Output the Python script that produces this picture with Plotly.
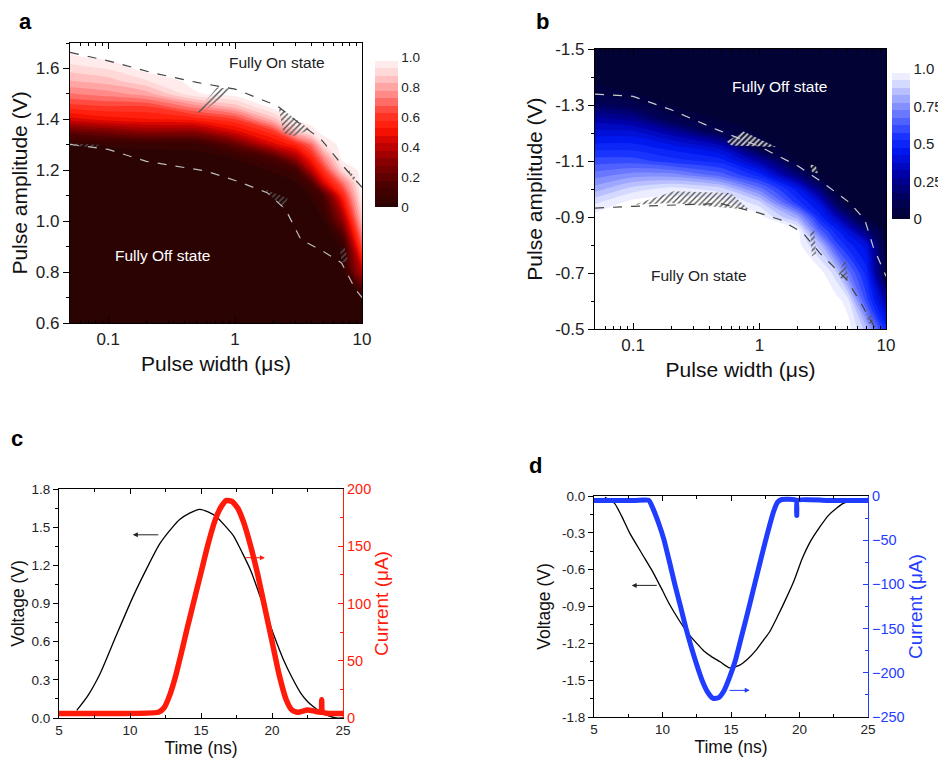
import numpy as np
import plotly.graph_objects as go

# The page body has an 8 px margin, so the figure is drawn 8 px in from the
# window corner: work in window pixels and convert.
OFF = 8
W, H = 946 - OFF, 764 - OFF
FONT = "Liberation Sans"


def px(x):
    return (x - OFF) / W


def py(y):
    return 1 - (y - OFF) / H


# ---------------- Panel a : SET map (normalised state) ----------------
a_width = [0.05, 0.1, 0.2, 0.5, 1, 2, 3, 4, 5, 7, 10]
a_amp = [0.6, 0.7, 0.8, 0.9, 1.0, 1.1, 1.15, 1.2, 1.25, 1.3, 1.35, 1.4,
         1.45, 1.5, 1.55, 1.6, 1.65, 1.7]
a_state = [
    [0, 0, 0, 0, 0, 0, 0, 0, 0, 0, 0],
    [0, 0, 0, 0, 0, 0, 0, 0, 0, 0, 0.02],
    [0, 0, 0, 0, 0, 0, 0, 0, 0, 0, 0.4],
    [0, 0, 0, 0, 0, 0, 0, 0, 0, 0.03, 0.65],
    [0, 0, 0, 0, 0, 0, 0, 0, 0.02, 0.3, 0.85],
    [0, 0, 0, 0, 0, 0, 0, 0.03, 0.15, 0.55, 0.97],
    [0, 0, 0, 0, 0, 0, 0.02, 0.15, 0.45, 0.7, 1],
    [0, 0, 0, 0, 0, 0.03, 0.1, 0.4, 0.6, 0.9, 1],
    [0, 0, 0, 0, 0.03, 0.15, 0.35, 0.55, 0.75, 1, 1],
    [0.02, 0.03, 0.04, 0.05, 0.2, 0.45, 0.55, 0.7, 0.92, 1, 1],
    [0.2, 0.25, 0.3, 0.3, 0.45, 0.6, 0.85, 0.95, 1, 1, 1],
    [0.45, 0.5, 0.52, 0.55, 0.62, 0.85, 1, 1, 1, 1, 1],
    [0.6, 0.62, 0.62, 0.75, 0.85, 1, 1, 1, 1, 1, 1],
    [0.72, 0.75, 0.8, 0.97, 1, 1, 1, 1, 1, 1, 1],
    [0.82, 0.85, 0.92, 1, 1, 1, 1, 1, 1, 1, 1],
    [0.9, 0.93, 1, 1, 1, 1, 1, 1, 1, 1, 1],
    [0.97, 1, 1, 1, 1, 1, 1, 1, 1, 1, 1],
    [1, 1, 1, 1, 1, 1, 1, 1, 1, 1, 1],
]
a_on_w = [0.05, 0.1, 0.22, 0.5, 1.0, 2.15, 3.3, 4.75, 7.0, 10]
a_on_v = [1.663, 1.63, 1.584, 1.545, 1.519, 1.453, 1.38, 1.322, 1.22, 1.133]
a_off_w = [0.05, 0.1, 0.2, 0.59, 1.0, 1.79, 2.5, 3.3, 5.0, 6.9, 8.9, 10]
a_off_v = [1.302, 1.282, 1.235, 1.197, 1.160, 1.112, 1.046, 0.928, 0.88, 0.836, 0.731, 0.70]
a_hatch = [
    ([0.49, 0.72, 0.95, 0.56], [1.425, 1.525, 1.52, 1.43]),
    ([2.2, 3.9, 2.9, 2.4], [1.45, 1.36, 1.335, 1.345]),
    ([1.7, 2.6, 2.4, 1.9], [1.125, 1.09, 1.05, 1.10]),
    ([6.7, 7.3, 7.8, 6.9], [0.89, 0.90, 0.84, 0.84]),
    ([0.05, 0.085, 0.08, 0.05], [1.305, 1.30, 1.29, 1.295]),
    ([7.9, 8.9, 8.6, 7.8], [1.20, 1.17, 1.16, 1.19]),
]

# ---------------- Panel b : RESET map ----------------
b_width = [0.05, 0.1, 0.2, 0.5, 1, 2, 3, 4, 5, 7, 10]
b_amp = [-1.5, -1.4, -1.35, -1.3, -1.25, -1.2, -1.15, -1.1, -1.05, -1.0,
         -0.95, -0.9, -0.85, -0.8, -0.7, -0.6, -0.5]
b_state = [
    [0, 0, 0, 0, 0, 0, 0, 0, 0, 0, 0],
    [0, 0, 0, 0, 0, 0, 0, 0, 0, 0, 0],
    [0.05, 0.02, 0, 0, 0, 0, 0, 0, 0, 0, 0],
    [0.15, 0.1, 0.02, 0, 0, 0, 0, 0, 0, 0, 0],
    [0.3, 0.25, 0.1, 0.02, 0, 0, 0, 0, 0, 0, 0],
    [0.4, 0.4, 0.3, 0.1, 0.02, 0, 0, 0, 0, 0, 0],
    [0.5, 0.5, 0.45, 0.35, 0.05, 0, 0, 0, 0, 0, 0],
    [0.6, 0.6, 0.55, 0.5, 0.3, 0.02, 0, 0, 0, 0, 0],
    [0.7, 0.75, 0.75, 0.65, 0.5, 0.2, 0.02, 0, 0, 0, 0],
    [0.8, 0.9, 0.95, 0.9, 0.7, 0.45, 0.2, 0.02, 0, 0, 0],
    [0.92, 1, 1, 1, 0.9, 0.55, 0.4, 0.15, 0.02, 0, 0],
    [1, 1, 1, 1, 1, 0.8, 0.5, 0.35, 0.2, 0.02, 0],
    [1, 1, 1, 1, 1, 1, 0.65, 0.5, 0.4, 0.2, 0],
    [1, 1, 1, 1, 1, 1, 0.85, 0.6, 0.5, 0.4, 0.02],
    [1, 1, 1, 1, 1, 1, 1, 0.9, 0.7, 0.5, 0.05],
    [1, 1, 1, 1, 1, 1, 1, 1, 0.95, 0.6, 0.3],
    [1, 1, 1, 1, 1, 1, 1, 1, 1, 0.85, 0.5],
]
b_off_w = [0.05, 0.1, 0.2, 0.46, 1.0, 2.03, 3.2, 5.2, 6.8, 7.9, 10]
b_off_v = [-1.339, -1.331, -1.283, -1.212, -1.152, -1.081, -1.021, -0.95, -0.89, -0.795, -0.688]
b_on_w = [0.05, 0.1, 0.49, 1.0, 1.46, 2.2, 3.0, 4.9, 6.1, 7.9, 8.3]
b_on_v = [-0.932, -0.938, -0.948, -0.914, -0.89, -0.843, -0.771, -0.676, -0.605, -0.521, -0.5]
b_hatch_dark = [
    ([0.102, 0.21, 0.59, 0.83, 0.2], [-0.944, -0.992, -0.986, -0.926, -0.95]),
    ([2.5, 2.7, 2.8, 2.6], [-0.85, -0.86, -0.77, -0.76]),
    ([4.2, 4.8, 5.0, 4.4], [-0.70, -0.75, -0.68, -0.68]),
    ([7.0, 7.6, 8.0, 7.3], [-0.55, -0.56, -0.52, -0.52]),
]
b_hatch_light = [
    ([0.55, 0.75, 1.35, 0.6], [-1.17, -1.205, -1.15, -1.155]),
    ([2.5, 2.8, 2.9, 2.6], [-1.09, -1.08, -1.055, -1.06]),
]

# ---------------- Panel c : SET pulse ----------------
c_t_v = [6.25, 7.0, 7.9, 9.0, 10.2, 11.2, 12.1, 13.0, 13.5, 14.2, 14.9, 15.5,
         16.1, 16.7, 17.3, 17.9, 18.5, 19.4, 20.1, 20.8, 21.4, 22.0, 22.5,
         22.9, 23.4, 23.9, 24.5, 25.0]
c_volt = [0.06, 0.17, 0.35, 0.64, 0.95, 1.18, 1.37, 1.50, 1.56, 1.61, 1.64,
          1.62, 1.58, 1.51, 1.43, 1.30, 1.16, 0.88, 0.66, 0.46, 0.32, 0.20,
          0.13, 0.09, 0.05, 0.02, 0.0, 0.0]
c_t_i = [5, 8, 12.0, 12.4, 12.8, 13.2, 13.6, 14.0, 14.5, 15.0, 15.5, 16.0, 16.4,
         16.8, 17.2, 17.6, 18.0, 18.5, 19.0, 19.5, 20.0, 20.5, 21.0, 21.4,
         21.8, 22.5, 23.0, 23.45, 23.5, 23.55, 24, 25]
c_curr = [4, 4, 5, 9, 20, 36, 56, 77, 102, 127, 152, 173, 184, 190, 189, 183,
          171, 150, 125, 96, 67, 38, 16, 7, 5, 7, 6, 5, 16, 5, 4, 4]

# ---------------- Panel d : RESET pulse ----------------
d_t_v = [5.8, 6.5, 7.0, 7.6, 8.5, 9.3, 10.0, 10.5, 11.2, 11.8, 12.5, 13.0,
         13.6, 14.2, 14.9, 15.6, 16.2, 16.8, 17.4, 17.8, 18.4, 19.0, 19.6,
         20.2, 20.8, 21.5, 22.1, 22.7, 23.2, 25]
d_volt = [-0.01, -0.06, -0.16, -0.30, -0.47, -0.62, -0.77, -0.88, -1.01,
          -1.11, -1.20, -1.26, -1.31, -1.35, -1.40, -1.38, -1.33, -1.26, -1.17,
          -1.11, -0.98, -0.84, -0.69, -0.51, -0.37, -0.25, -0.16, -0.10, -0.06, -0.02]
d_t_i = [5, 8, 9.0, 9.3, 9.7, 10.1, 10.5, 10.9, 11.3, 11.7, 12.1, 12.5, 12.9,
         13.3, 13.7, 14.1, 14.5, 14.9, 15.3, 15.7, 16.1, 16.5, 16.9, 17.3,
         17.7, 18.1, 18.4, 18.7, 19.75, 19.8, 19.85, 22, 25]
d_curr = [-5, -5, -5, -14, -30, -49, -74, -100, -124, -149, -171, -191, -209,
          -222, -229, -228, -220, -205, -187, -163, -139, -114, -89, -64, -40,
          -18, -7, -4, -5, -22, -5, -5, -5]

# ---------------- colours ----------------
red_scale = [[0, "#2c0303"], [0.15, "#4d0000"], [0.3, "#880000"], [0.42, "#c80000"],
             [0.52, "#ff1500"], [0.62, "#ff3a2c"], [0.75, "#ff8a88"], [0.88, "#ffd0d0"],
             [1, "#ffffff"]]
blue_scale = [[0, "#020234"], [0.15, "#00005e"], [0.3, "#0000a8"], [0.45, "#0018f0"],
              [0.55, "#1a34ff"], [0.7, "#6a78ff"], [0.82, "#aab2ff"], [0.93, "#e4e7ff"],
              [1, "#ffffff"]]
RED = "#ff1a0a"
BLUE = "#1f3cff"

fig = go.Figure()

# panel a
fig.add_trace(go.Contour(
    x=a_width, y=a_amp, z=a_state, xaxis="x", yaxis="y",
    colorscale=red_scale, zmin=0, zmax=1,
    contours=dict(start=0.025, end=0.975, size=0.05, coloring="fill"),
    line=dict(width=0, smoothing=0.8),
    colorbar=dict(x=px(375), xanchor="left", y=py(132), yanchor="middle",
                  len=150, lenmode="pixels", thickness=23, xpad=0, ypad=0,
                  outlinewidth=0, ticks="",
                  tickvals=[0, 0.2, 0.4, 0.6, 0.8, 1.0],
                  ticktext=["0", "0.2", "0.4", "0.6", "0.8", "1.0"],
                  tickfont=dict(size=13.5, color="#222", family=FONT)),
    hoverinfo="skip"))
for hx, hy in a_hatch:
    fig.add_trace(go.Scatter(x=hx + [hx[0]], y=hy + [hy[0]], xaxis="x", yaxis="y",
                             mode="lines", fill="toself", line=dict(width=0),
                             fillcolor="rgba(0,0,0,0)",
                             fillpattern=dict(shape="/", fgcolor="#555555",
                                              bgcolor="rgba(255,255,255,0)", size=4, solidity=0.35),
                             hoverinfo="skip", showlegend=False))
fig.add_trace(go.Scatter(x=a_on_w, y=a_on_v, xaxis="x", yaxis="y", mode="lines",
                         line=dict(color="#444444", width=1.2, dash="dash"),
                         hoverinfo="skip", showlegend=False))
fig.add_trace(go.Scatter(x=a_off_w, y=a_off_v, xaxis="x", yaxis="y", mode="lines",
                         line=dict(color="#bbbbbb", width=1.2, dash="dash"),
                         hoverinfo="skip", showlegend=False))

# panel b
fig.add_trace(go.Contour(
    x=b_width, y=b_amp, z=b_state, xaxis="x2", yaxis="y2",
    colorscale=blue_scale, zmin=0, zmax=1,
    contours=dict(start=0.025, end=0.975, size=0.05, coloring="fill"),
    line=dict(width=0, smoothing=0.8),
    colorbar=dict(x=px(892), xanchor="left", y=py(144), yanchor="middle",
                  len=150, lenmode="pixels", thickness=18, xpad=0, ypad=0,
                  outlinewidth=0, ticks="",
                  tickvals=[0, 0.25, 0.5, 0.75, 1.0],
                  ticktext=["0", "0.25", "0.5", "0.75", "1.0"],
                  tickfont=dict(size=15, color="#222", family=FONT)),
    hoverinfo="skip"))
for hx, hy in b_hatch_dark:
    fig.add_trace(go.Scatter(x=hx + [hx[0]], y=hy + [hy[0]], xaxis="x2", yaxis="y2",
                             mode="lines", fill="toself", line=dict(width=0),
                             fillcolor="rgba(0,0,0,0)",
                             fillpattern=dict(shape="/", fgcolor="#555555",
                                              bgcolor="rgba(255,255,255,0)", size=4, solidity=0.35),
                             hoverinfo="skip", showlegend=False))
for hx, hy in b_hatch_light:
    fig.add_trace(go.Scatter(x=hx + [hx[0]], y=hy + [hy[0]], xaxis="x2", yaxis="y2",
                             mode="lines", fill="toself", line=dict(width=0),
                             fillcolor="rgba(0,0,0,0)",
                             fillpattern=dict(shape="/", fgcolor="#d8d8d8",
                                              bgcolor="rgba(40,40,60,0.6)", size=4, solidity=0.4),
                             hoverinfo="skip", showlegend=False))
fig.add_trace(go.Scatter(x=b_off_w, y=b_off_v, xaxis="x2", yaxis="y2", mode="lines",
                         line=dict(color="#cccccc", width=1.2, dash="dash"),
                         hoverinfo="skip", showlegend=False))
fig.add_trace(go.Scatter(x=b_on_w, y=b_on_v, xaxis="x2", yaxis="y2", mode="lines",
                         line=dict(color="#444444", width=1.2, dash="dash"),
                         hoverinfo="skip", showlegend=False))

# panel c
fig.add_trace(go.Scatter(x=c_t_i, y=c_curr, xaxis="x3", yaxis="y4", mode="lines",
                         line=dict(color=RED, width=5.5, shape="spline", smoothing=0.5),
                         hoverinfo="skip", showlegend=False))
fig.add_trace(go.Scatter(x=c_t_v, y=c_volt, xaxis="x3", yaxis="y3", mode="lines",
                         line=dict(color="black", width=1.3, shape="spline", smoothing=0.6),
                         hoverinfo="skip", showlegend=False))

# panel d
fig.add_trace(go.Scatter(x=d_t_v, y=d_volt, xaxis="x4", yaxis="y5", mode="lines",
                         line=dict(color="black", width=1.3, shape="spline", smoothing=0.6),
                         hoverinfo="skip", showlegend=False))
fig.add_trace(go.Scatter(x=d_t_i, y=d_curr, xaxis="x4", yaxis="y6", mode="lines",
                         line=dict(color=BLUE, width=5, shape="spline", smoothing=0.5),
                         hoverinfo="skip", showlegend=False))

# ---------------- axes ----------------
tickfont_big = dict(size=17, color="#222", family=FONT)
title_big = dict(size=21, color="#111", family=FONT)
tickfont_sm = dict(size=13.5, color="#222", family=FONT)
title_sm = dict(size=17.5, color="#111", family=FONT)

minor_log = [0.05, 0.06, 0.07, 0.08, 0.09, 0.2, 0.3, 0.4, 0.5, 0.6, 0.7, 0.8, 0.9,
             2, 3, 4, 5, 6, 7, 8, 9]


def log_x(domain, anchor):
    return dict(domain=domain, anchor=anchor, type="log", automargin=False,
                range=[np.log10(0.05), 1.0],
                tickvals=[0.1, 1, 10], ticktext=["0.1", "1", "10"],
                ticks="inside", ticklen=6, tickwidth=1, tickcolor="black",
                minor=dict(tickvals=minor_log, ticks="inside", ticklen=3, tickcolor="black"),
                showline=True, linecolor="black", linewidth=1.2, mirror="ticks",
                showgrid=False, zeroline=False, tickfont=tickfont_big,
                title=dict(text="Pulse width (\u03bcs)", font=title_big, standoff=8))


def lin_x(domain, anchor):
    return dict(domain=domain, anchor=anchor, range=[5, 25], automargin=False,
                tickvals=[5, 10, 15, 20, 25], ticks="inside", ticklen=5, tickcolor="black",
                minor=dict(dtick=2.5, tick0=5, ticks="inside", ticklen=3, tickcolor="black"),
                showline=True, linecolor="black", linewidth=1.2, mirror="ticks",
                showgrid=False, zeroline=False, tickfont=tickfont_sm,
                title=dict(text="Time (ns)", font=title_sm, standoff=4))


def right_ticks(over, anchor, rng, vals, minor_dtick, minor0):
    # inward pointing tick marks on the right frame edge
    return dict(overlaying=over, anchor=anchor, side="right", range=rng, automargin=False,
                tickvals=vals, showticklabels=False, ticks="inside", ticklen=6,
                tickcolor="black",
                minor=dict(dtick=minor_dtick, tick0=minor0, ticks="inside", ticklen=3,
                           tickcolor="black"),
                showline=False, showgrid=False, zeroline=False)


fig.update_layout(
    template="none",
    width=W, height=H, margin=dict(l=0, r=0, t=0, b=0, autoexpand=False),
    paper_bgcolor="white", plot_bgcolor="white", showlegend=False,
    font=dict(family=FONT),
    xaxis=log_x([px(70), px(362)], "y"),
    yaxis=dict(domain=[py(323), py(43)], anchor="x", range=[0.6, 1.7], automargin=False,
               tickvals=[0.6, 0.8, 1.0, 1.2, 1.4, 1.6],
               ticktext=["0.6", "0.8", "1.0", "1.2", "1.4", "1.6"],
               ticks="outside", ticklen=6, tickcolor="black",
               minor=dict(dtick=0.1, tick0=0.6, ticks="outside", ticklen=3, tickcolor="black"),
               showline=True, linecolor="black", linewidth=1.2, mirror=True,
               showgrid=False, zeroline=False, tickfont=tickfont_big,
               title=dict(text="Pulse amplitude (V)", font=title_big, standoff=6)),
    yaxis7=right_ticks("y", "x", [0.6, 1.7], [0.6, 0.8, 1.0, 1.2, 1.4, 1.6], 0.1, 0.6),
    xaxis2=log_x([px(595), px(886)], "y2"),
    yaxis2=dict(domain=[py(329), py(49)], anchor="x2", range=[-0.5, -1.5], automargin=False,
                tickvals=[-1.5, -1.3, -1.1, -0.9, -0.7, -0.5],
                ticktext=["-1.5", "-1.3", "-1.1", "-0.9", "-0.7", "-0.5"],
                ticks="outside", ticklen=6, tickcolor="black",
                minor=dict(dtick=0.1, tick0=-1.5, ticks="outside", ticklen=3, tickcolor="black"),
                showline=True, linecolor="black", linewidth=1.2, mirror=True,
                showgrid=False, zeroline=False, tickfont=tickfont_big,
                title=dict(text="Pulse amplitude (V)", font=title_big, standoff=6)),
    yaxis8=right_ticks("y2", "x2", [-0.5, -1.5], [-1.5, -1.3, -1.1, -0.9, -0.7, -0.5], 0.1, -1.5),
    xaxis3=lin_x([px(59), px(343)], "y3"),
    yaxis3=dict(domain=[py(718), py(489)], anchor="x3", range=[0, 1.8], automargin=False,
                tickvals=[0, 0.3, 0.6, 0.9, 1.2, 1.5, 1.8],
                ticktext=["0.0", "0.3", "0.6", "0.9", "1.2", "1.5", "1.8"],
                ticks="outside", ticklen=5, tickcolor="black",
                minor=dict(dtick=0.15, tick0=0, ticks="outside", ticklen=3, tickcolor="black"),
                showline=True, linecolor="black", linewidth=1.2,
                showgrid=False, zeroline=False, tickfont=tickfont_sm,
                title=dict(text="Voltage (V)", font=title_sm, standoff=6)),
    yaxis4=dict(overlaying="y3", anchor="x3", side="right", range=[0, 200], automargin=False,
                tickvals=[0, 50, 100, 150, 200], ticks="inside", ticklen=5, tickcolor=RED,
                minor=dict(dtick=25, tick0=0, ticks="inside", ticklen=3, tickcolor=RED),
                showline=True, linecolor=RED, linewidth=1.2,
                showgrid=False, zeroline=False,
                tickfont=dict(size=14.5, color=RED, family=FONT),
                title=dict(text="Current (\u03bcA)", font=dict(size=19, color=RED, family=FONT),
                           standoff=4)),
    xaxis4=lin_x([px(594), px(868)], "y5"),
    yaxis5=dict(domain=[py(717), py(496)], anchor="x4", range=[-1.8, 0], automargin=False,
                tickvals=[-1.8, -1.5, -1.2, -0.9, -0.6, -0.3, 0],
                ticktext=["-1.8", "-1.5", "-1.2", "-0.9", "-0.6", "-0.3", "0.0"],
                ticks="outside", ticklen=5, tickcolor="black",
                minor=dict(dtick=0.15, tick0=0, ticks="outside", ticklen=3, tickcolor="black"),
                showline=True, linecolor="black", linewidth=1.2,
                showgrid=False, zeroline=False, tickfont=tickfont_sm,
                title=dict(text="Voltage (V)", font=title_sm, standoff=6)),
    yaxis6=dict(overlaying="y5", anchor="x4", side="right", range=[-250, 0], automargin=False,
                tickvals=[-250, -200, -150, -100, -50, 0], ticks="inside", ticklen=5,
                tickcolor=BLUE,
                minor=dict(dtick=25, tick0=0, ticks="inside", ticklen=3, tickcolor=BLUE),
                showline=True, linecolor=BLUE, linewidth=1.2,
                showgrid=False, zeroline=False,
                tickfont=dict(size=14.5, color=BLUE, family=FONT),
                title=dict(text="Current (\u03bcA)", font=dict(size=19, color=BLUE, family=FONT),
                           standoff=4)),
)

# ---------------- annotations ----------------
ann = []
for txt, x, y in [("a", 25, 22), ("b", 542, 21), ("c", 17, 438), ("d", 535, 465)]:
    ann.append(dict(text=f"<b>{txt}</b>", x=px(x), y=py(y), xref="paper", yref="paper",
                    showarrow=False, xanchor="center", yanchor="middle",
                    font=dict(size=22, color="black", family=FONT)))

ann += [
    dict(text="Fully On state", x=np.log10(2.15), y=1.624, xref="x", yref="y",
         showarrow=False, font=dict(size=15.5, color="#222", family=FONT)),
    dict(text="Fully Off state", x=np.log10(0.266), y=0.865, xref="x", yref="y",
         showarrow=False, font=dict(size=15.5, color="white", family=FONT)),
    dict(text="Fully Off state", x=np.log10(1.43), y=-1.366, xref="x2", yref="y2",
         showarrow=False, font=dict(size=15.5, color="white", family=FONT)),
    dict(text="Fully On state", x=np.log10(0.334), y=-0.690, xref="x2", yref="y2",
         showarrow=False, font=dict(size=15.5, color="#222", family=FONT)),
    # arrows c
    dict(x=10.2, y=1.44, ax=12.1, ay=1.44, xref="x3", yref="y3", axref="x3", ayref="y3",
         text="", showarrow=True, arrowhead=2, arrowsize=1, arrowwidth=1, arrowcolor="#222"),
    dict(x=19.5, y=1.26, ax=18.0, ay=1.26, xref="x3", yref="y3", axref="x3", ayref="y3",
         text="", showarrow=True, arrowhead=2, arrowsize=1, arrowwidth=1, arrowcolor=RED),
    # arrows d
    dict(x=7.75, y=-0.728, ax=9.69, ay=-0.728, xref="x4", yref="y5", axref="x4", ayref="y5",
         text="", showarrow=True, arrowhead=2, arrowsize=1, arrowwidth=1, arrowcolor="#222"),
    dict(x=16.37, y=-1.583, ax=14.79, ay=-1.583, xref="x4", yref="y5", axref="x4", ayref="y5",
         text="", showarrow=True, arrowhead=2, arrowsize=1, arrowwidth=1, arrowcolor=BLUE),
]
fig.update_layout(annotations=ann)

fig.write_html("out.html")
